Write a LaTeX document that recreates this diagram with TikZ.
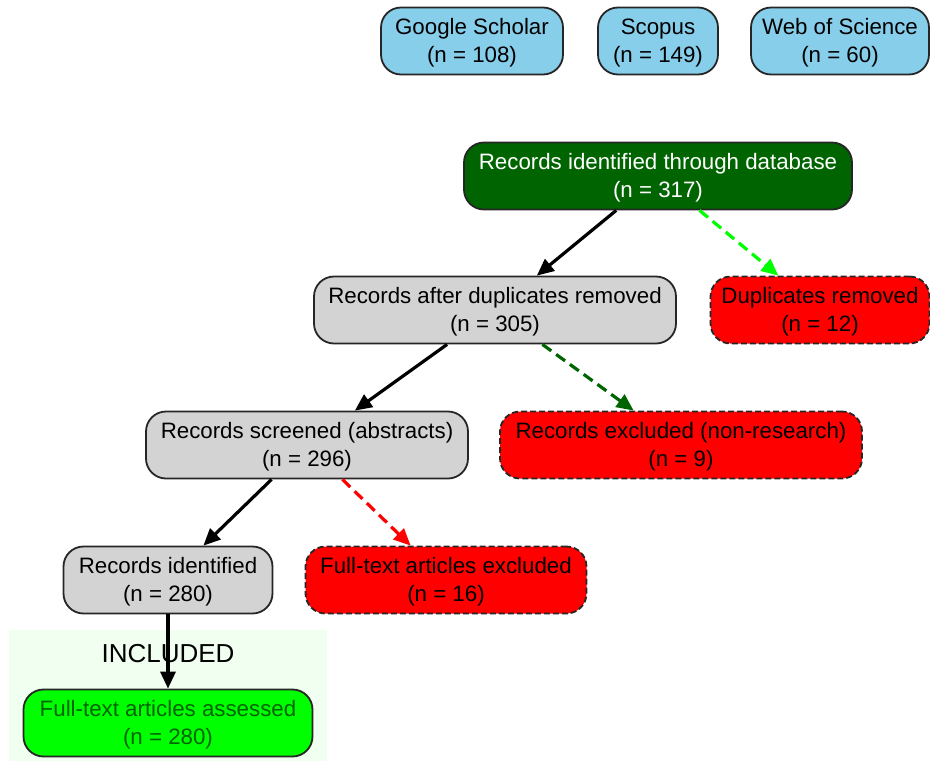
\documentclass[tikz,border=0pt]{standalone}
\usepackage{fontspec}
\setmainfont{Liberation Sans}
\usetikzlibrary{arrows.meta}
\definecolor{skyb}{HTML}{87CEEB}
\definecolor{dkgreen}{HTML}{006400}
\definecolor{ltgray}{HTML}{D3D3D3}
\definecolor{limeg}{HTML}{00FF00}
\definecolor{honeydew}{HTML}{F0FFF0}
\tikzset{
  box/.style={draw=black!85, line width=1.8pt, rounded corners=20pt, align=center, inner sep=0pt,
    font=\fontsize{22.3}{28}\selectfont, minimum height=67pt, text depth=1pt},
  srcbox/.style={box, fill=skyb},
  dbbox/.style={box, fill=dkgreen, text=white},
  graybox/.style={box, fill=ltgray},
  redbox/.style={box, fill=red, dash pattern=on 6pt off 3pt},
  greenbox/.style={box, fill=limeg, text=dkgreen},
  edge/.style={line width=3.2pt, -{Triangle[length=17pt,width=15pt]}},
  dedge/.style={edge, dash pattern=on 11pt off 6pt},
}
\begin{document}
\begin{tikzpicture}[x=1pt,y=-1pt]
\useasboundingbox (0,0) rectangle (930,761);
\fill[honeydew] (9,630) rectangle (327,761);
\node[font=\fontsize{26}{30}\selectfont] (inclabel) at (168,654) {INCLUDED};

\node[srcbox, minimum width=182pt] (gs) at (472,41) {Google Scholar\\(n = 108)};
\node[srcbox, minimum width=120pt] (sc) at (658,41) {Scopus\\(n = 149)};
\node[srcbox, minimum width=178pt] (ws) at (840,41) {Web of Science\\(n = 60)};

\node[dbbox, minimum width=388pt] (db) at (658,176) {Records identified through database\\(n = 317)};
\node[graybox, minimum width=362pt] (ad) at (495,310) {Records after duplicates removed\\(n = 305)};
\node[redbox, minimum width=219pt] (dr) at (820,310) {Duplicates removed\\(n = 12)};
\node[graybox, minimum width=322pt] (rs) at (307,445) {Records screened (abstracts)\\(n = 296)};
\node[redbox, minimum width=362pt] (re) at (681,445) {Records excluded (non-research)\\(n = 9)};
\node[graybox, minimum width=209pt] (ri) at (168,580) {Records identified\\(n = 280)};
\node[redbox, minimum width=281pt] (fe) at (446,580) {Full-text articles excluded\\(n = 16)};
\node[greenbox, minimum width=289pt] (fa) at (168,723) {Full-text articles assessed\\(n = 280)};

\draw[edge] (db) -- (ad);
\draw[dedge, limeg] (db) -- (dr);
\draw[edge] (ad) -- (rs);
\draw[dedge, dkgreen] (ad) -- (re);
\draw[edge] (rs) -- (ri);
\draw[dedge, red] (rs) -- (fe);
\draw[edge] (ri) -- (fa);
\end{tikzpicture}
\end{document}
